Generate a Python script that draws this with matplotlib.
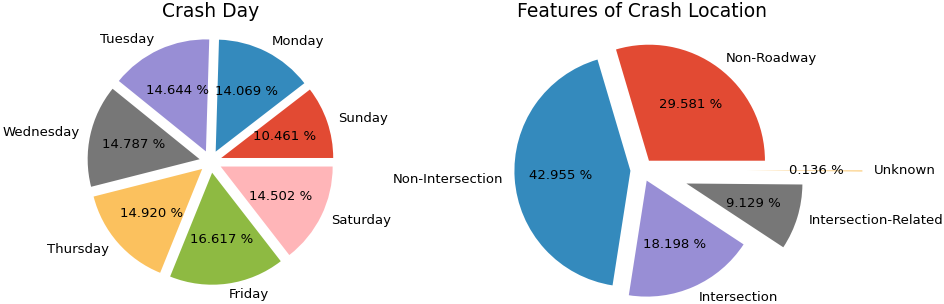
import matplotlib
matplotlib.use('Agg')
import matplotlib.pyplot as plt

plt.style.use('ggplot')
plt.rcParams['font.size'] = 9.5

# Crash Day
days = ['Sunday', 'Monday', 'Tuesday', 'Wednesday', 'Thursday', 'Friday', 'Saturday']
day_pct = [10.461, 14.069, 14.644, 14.787, 14.920, 16.617, 14.502]
day_explode = [0.1, 0.1, 0.1, 0.1, 0.1, 0.1, 0.1]

# Features of Crash Location
locations = ['Non-Roadway', 'Non-Intersection', 'Intersection', 'Intersection-Related', 'Unknown']
loc_pct = [29.581, 42.955, 18.198, 9.129, 0.136]
loc_explode = [0.1, 0.1, 0.1, 0.4, 0.9]

W, H = 944, 304
fig = plt.figure(figsize=(W / 100, H / 100), dpi=100)

def box(cx, cy, side):
    return [(cx - side / 2) / W, (H - cy - side / 2) / H, side / W, side / H]

ax1 = fig.add_axes(box(210.6, 161.6, 280))
ax2 = fig.add_axes(box(642, 170, 290))

ax1.pie(day_pct, labels=days, explode=day_explode, autopct='%.3f %%')
ax1.set_title('Crash Day', fontsize=13.5, pad=3.3)

ax2.pie(loc_pct, labels=locations, explode=loc_explode, autopct='%.3f %%')
ax2.set_title('Features of Crash Location', fontsize=13.5, pad=5.8)

fig.savefig('out.png', dpi=100)
